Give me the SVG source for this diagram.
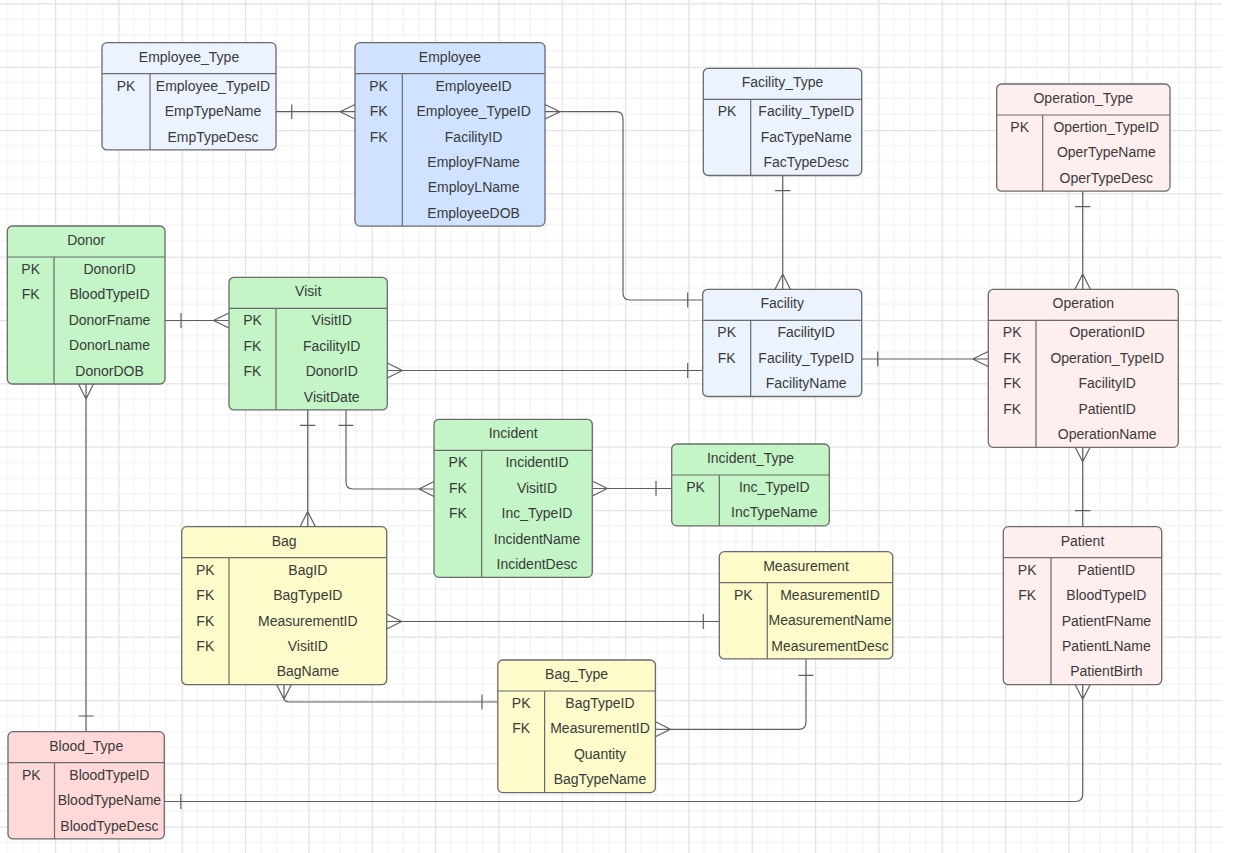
<svg xmlns="http://www.w3.org/2000/svg" width="1235" height="853" viewBox="0 0 1235 853">
<style>
.t{font-family:"Liberation Sans",Arial,sans-serif;font-size:14px;fill:#3a3a3a;text-anchor:middle}
.box{stroke:#6b6b6b;stroke-width:1.3}
.ln{stroke:#6b6b6b;stroke-width:1.2;fill:none}
.lb{fill:#ebf3ff}.bl{fill:#cfe2ff}.gr{fill:#c3f5c6}.ye{fill:#fcfbc9}.pk{fill:#ffeeee}.rs{fill:#ffd9d9}
.c{stroke:#5f5f5f;stroke-width:1.2;fill:none}
</style>
<defs>
<pattern id="grid" x="55" y="3.3" width="63.33" height="63.33" patternUnits="userSpaceOnUse">
<rect x="15.33" y="0" width="1" height="63.33" fill="#efefef"/>
<rect x="31.17" y="0" width="1" height="63.33" fill="#efefef"/>
<rect x="47" y="0" width="1" height="63.33" fill="#efefef"/>
<rect x="0" y="15.33" width="63.33" height="1" fill="#efefef"/>
<rect x="0" y="31.17" width="63.33" height="1" fill="#efefef"/>
<rect x="0" y="47" width="63.33" height="1" fill="#efefef"/>
<rect x="0" y="0" width="1.2" height="63.33" fill="#e0e0e0"/>
<rect x="0" y="0" width="63.33" height="1.2" fill="#e0e0e0"/>
</pattern>
</defs>
<rect width="1235" height="853" fill="#ffffff"/>
<rect width="1222" height="853" fill="url(#grid)"/>

<g id="connectors">
<!-- Employee_Type - Employee -->
<path class="c" d="M276,111.7 H355 M291.7,104.5 V119 M340,111.7 L355,104.5 M340,111.7 L355,119"/>
<!-- Employee - Facility -->
<path class="c" d="M545,111.7 H616 Q623,111.7 623,118.7 V293 Q623,300 630,300 H702.7 M560,111.7 L545,104.5 M560,111.7 L545,119 M687.7,292.5 V307.5"/>
<!-- Facility_Type - Facility -->
<path class="c" d="M782.7,175 V289.3 M775,190.7 H790.4 M782.7,274 L775,289.3 M782.7,274 L790.4,289.3"/>
<!-- Operation_Type - Operation -->
<path class="c" d="M1082.7,190.7 V289.3 M1075,206.7 H1090.4 M1082.7,274 L1075,289.3 M1082.7,274 L1090.4,289.3"/>
<!-- Facility - Operation -->
<path class="c" d="M861.7,359 H988.3 M877.7,351.5 V366.5 M972.7,359 L988.3,351.5 M972.7,359 L988.3,366.5"/>
<!-- Donor - Visit -->
<path class="c" d="M165,320.5 H229 M181,313 V328 M213.5,320.5 L229,313 M213.5,320.5 L229,328"/>
<!-- Visit - Facility -->
<path class="c" d="M387.3,370.5 H702.7 M402.3,370.5 L387.3,363 M402.3,370.5 L387.3,378 M687.7,363 V378"/>
<!-- Visit - Bag -->
<path class="c" d="M307.7,409.3 V526.7 M300,425.3 H315.4 M307.7,511.5 L300,526.7 M307.7,511.5 L315.4,526.7"/>
<!-- Visit - Incident -->
<path class="c" d="M346,409.3 V482 Q346,489 353,489 H434 M338.5,425.3 H353.5 M419,489 L434,481.5 M419,489 L434,496.5"/>
<!-- Incident - Incident_Type -->
<path class="c" d="M592.3,488.5 H671.7 M607.3,488.5 L592.3,481 M607.3,488.5 L592.3,496 M656,481 V496"/>
<!-- Bag - Measurement -->
<path class="c" d="M386.7,621.5 H719.3 M401.7,621.5 L386.7,614 M401.7,621.5 L386.7,629 M703.3,614 V629"/>
<!-- Bag - Bag_Type -->
<path class="c" d="M284,684.3 V697 Q284,702 289,702 H497.8 M284,699.3 L276.5,684.3 M284,699.3 L291.5,684.3 M482,694.5 V709.5"/>
<!-- Measurement - Bag_Type -->
<path class="c" d="M806,659.3 V722 Q806,729.3 799,729.3 H655.4 M798.5,675.3 H813.5 M670.4,729.3 L655.4,721.8 M670.4,729.3 L655.4,736.8"/>
<!-- Operation - Patient -->
<path class="c" d="M1082.7,446.7 V526.7 M1082.7,461.7 L1075,446.7 M1082.7,461.7 L1090.4,446.7 M1075,510.7 H1090.4"/>
<!-- Donor - Blood_Type -->
<path class="c" d="M86,384 V731.7 M86,399 L78.5,384 M86,399 L93.5,384 M78.5,716 H93.5"/>
<!-- Blood_Type - Patient -->
<path class="c" d="M164.3,801.5 H1075.5 Q1082.7,801.5 1082.7,794.3 V684.3 M180.8,794 V809 M1082.7,699.3 L1075,684.3 M1082.7,699.3 L1090.4,684.3"/>
</g>

<g id="Employee_Type">
<rect class="box lb" x="102" y="42.7" width="174" height="107.2" rx="5"/>
<path class="ln" d="M102,73.7 H276 M150,73.7 V149.9"/>
<text class="t" x="189" y="61.7">Employee_Type</text>
<text class="t" x="126" y="90.7">PK</text><text class="t" x="213" y="90.7">Employee_TypeID</text>
<text class="t" x="213" y="116.1">EmpTypeName</text>
<text class="t" x="213" y="141.5">EmpTypeDesc</text>
</g>

<g id="Employee">
<rect class="box bl" x="355" y="42.7" width="190" height="183.4" rx="5"/>
<path class="ln" d="M355,73.7 H545 M402.3,73.7 V226.1"/>
<text class="t" x="450" y="61.7">Employee</text>
<text class="t" x="378.6" y="90.7">PK</text><text class="t" x="473.6" y="90.7">EmployeeID</text>
<text class="t" x="378.6" y="116.1">FK</text><text class="t" x="473.6" y="116.1">Employee_TypeID</text>
<text class="t" x="378.6" y="141.5">FK</text><text class="t" x="473.6" y="141.5">FacilityID</text>
<text class="t" x="473.6" y="166.9">EmployFName</text>
<text class="t" x="473.6" y="192.3">EmployLName</text>
<text class="t" x="473.6" y="217.7">EmployeeDOB</text>
</g>

<g id="Facility_Type">
<rect class="box lb" x="703.3" y="68.3" width="158.4" height="107.2" rx="5"/>
<path class="ln" d="M703.3,99.3 H861.7 M750.7,99.3 V175.5"/>
<text class="t" x="782.5" y="87.3">Facility_Type</text>
<text class="t" x="727" y="116.3">PK</text><text class="t" x="806.2" y="116.3">Facility_TypeID</text>
<text class="t" x="806.2" y="141.7">FacTypeName</text>
<text class="t" x="806.2" y="167.1">FacTypeDesc</text>
</g>

<g id="Operation_Type">
<rect class="box pk" x="996.7" y="84" width="173.3" height="107.2" rx="5"/>
<path class="ln" d="M996.7,115 H1170 M1042.7,115 V191.2"/>
<text class="t" x="1083.3" y="103">Operation_Type</text>
<text class="t" x="1019.7" y="132">PK</text><text class="t" x="1106.3" y="132">Opertion_TypeID</text>
<text class="t" x="1106.3" y="157.4">OperTypeName</text>
<text class="t" x="1106.3" y="182.8">OperTypeDesc</text>
</g>

<g id="Donor">
<rect class="box gr" x="7.3" y="226" width="157.7" height="158" rx="5"/>
<path class="ln" d="M7.3,257 H165 M54,257 V384"/>
<text class="t" x="86.2" y="245">Donor</text>
<text class="t" x="30.7" y="274">PK</text><text class="t" x="109.5" y="274">DonorID</text>
<text class="t" x="30.7" y="299.4">FK</text><text class="t" x="109.5" y="299.4">BloodTypeID</text>
<text class="t" x="109.5" y="324.8">DonorFname</text>
<text class="t" x="109.5" y="350.2">DonorLname</text>
<text class="t" x="109.5" y="375.6">DonorDOB</text>
</g>

<g id="Visit">
<rect class="box gr" x="229" y="277.3" width="158.3" height="132.6" rx="5"/>
<path class="ln" d="M229,308.3 H387.3 M276,308.3 V409.9"/>
<text class="t" x="308.2" y="296.3">Visit</text>
<text class="t" x="252.5" y="325.3">PK</text><text class="t" x="331.7" y="325.3">VisitID</text>
<text class="t" x="252.5" y="350.7">FK</text><text class="t" x="331.7" y="350.7">FacilityID</text>
<text class="t" x="252.5" y="376.1">FK</text><text class="t" x="331.7" y="376.1">DonorID</text>
<text class="t" x="331.7" y="401.5">VisitDate</text>
</g>

<g id="Facility">
<rect class="box lb" x="702.7" y="289.3" width="159" height="107.2" rx="5"/>
<path class="ln" d="M702.7,320.3 H861.7 M750.7,320.3 V396.5"/>
<text class="t" x="782.2" y="308.3">Facility</text>
<text class="t" x="726.7" y="337.3">PK</text><text class="t" x="806.2" y="337.3">FacilityID</text>
<text class="t" x="726.7" y="362.7">FK</text><text class="t" x="806.2" y="362.7">Facility_TypeID</text>
<text class="t" x="806.2" y="388.1">FacilityName</text>
</g>

<g id="Operation">
<rect class="box pk" x="988.3" y="289.3" width="190" height="158" rx="5"/>
<path class="ln" d="M988.3,320.3 H1178.3 M1036,320.3 V447.3"/>
<text class="t" x="1083.3" y="308.3">Operation</text>
<text class="t" x="1012.2" y="337.3">PK</text><text class="t" x="1107.2" y="337.3">OperationID</text>
<text class="t" x="1012.2" y="362.7">FK</text><text class="t" x="1107.2" y="362.7">Operation_TypeID</text>
<text class="t" x="1012.2" y="388.1">FK</text><text class="t" x="1107.2" y="388.1">FacilityID</text>
<text class="t" x="1012.2" y="413.5">FK</text><text class="t" x="1107.2" y="413.5">PatientID</text>
<text class="t" x="1107.2" y="438.9">OperationName</text>
</g>

<g id="Incident">
<rect class="box gr" x="434" y="419.3" width="158.3" height="158" rx="5"/>
<path class="ln" d="M434,450.3 H592.3 M481.7,450.3 V577.3"/>
<text class="t" x="513.2" y="438.3">Incident</text>
<text class="t" x="457.9" y="467.3">PK</text><text class="t" x="537" y="467.3">IncidentID</text>
<text class="t" x="457.9" y="492.7">FK</text><text class="t" x="537" y="492.7">VisitID</text>
<text class="t" x="457.9" y="518.1">FK</text><text class="t" x="537" y="518.1">Inc_TypeID</text>
<text class="t" x="537" y="543.5">IncidentName</text>
<text class="t" x="537" y="568.9">IncidentDesc</text>
</g>

<g id="Incident_Type">
<rect class="box gr" x="671.7" y="444" width="157.6" height="81.8" rx="5"/>
<path class="ln" d="M671.7,475 H829.3 M719.3,475 V525.8"/>
<text class="t" x="750.5" y="463">Incident_Type</text>
<text class="t" x="695.5" y="492">PK</text><text class="t" x="774.3" y="492">Inc_TypeID</text>
<text class="t" x="774.3" y="517.4">IncTypeName</text>
</g>

<g id="Bag">
<rect class="box ye" x="181.7" y="526.7" width="205" height="158" rx="5"/>
<path class="ln" d="M181.7,557.7 H386.7 M229,557.7 V684.7"/>
<text class="t" x="284.2" y="545.7">Bag</text>
<text class="t" x="205.3" y="574.7">PK</text><text class="t" x="307.8" y="574.7">BagID</text>
<text class="t" x="205.3" y="600.1">FK</text><text class="t" x="307.8" y="600.1">BagTypeID</text>
<text class="t" x="205.3" y="625.5">FK</text><text class="t" x="307.8" y="625.5">MeasurementID</text>
<text class="t" x="205.3" y="650.9">FK</text><text class="t" x="307.8" y="650.9">VisitID</text>
<text class="t" x="307.8" y="676.3">BagName</text>
</g>

<g id="Measurement">
<rect class="box ye" x="719.3" y="551.7" width="173.4" height="107.2" rx="5"/>
<path class="ln" d="M719.3,582.7 H892.7 M767.3,582.7 V658.9"/>
<text class="t" x="806" y="570.7">Measurement</text>
<text class="t" x="743.3" y="599.7">PK</text><text class="t" x="830" y="599.7">MeasurementID</text>
<text class="t" x="830" y="625.1">MeasurementName</text>
<text class="t" x="830" y="650.5">MeasurementDesc</text>
</g>

<g id="Bag_Type">
<rect class="box ye" x="497.8" y="660" width="157.6" height="132.6" rx="5"/>
<path class="ln" d="M497.8,691 H655.4 M544.6,691 V792.6"/>
<text class="t" x="576.6" y="679">Bag_Type</text>
<text class="t" x="521.2" y="708">PK</text><text class="t" x="600" y="708">BagTypeID</text>
<text class="t" x="521.2" y="733.4">FK</text><text class="t" x="600" y="733.4">MeasurementID</text>
<text class="t" x="600" y="758.8">Quantity</text>
<text class="t" x="600" y="784.2">BagTypeName</text>
</g>

<g id="Patient">
<rect class="box pk" x="1003.3" y="526.7" width="158.4" height="158" rx="5"/>
<path class="ln" d="M1003.3,557.7 H1161.7 M1051,557.7 V684.7"/>
<text class="t" x="1082.5" y="545.7">Patient</text>
<text class="t" x="1027.2" y="574.7">PK</text><text class="t" x="1106.4" y="574.7">PatientID</text>
<text class="t" x="1027.2" y="600.1">FK</text><text class="t" x="1106.4" y="600.1">BloodTypeID</text>
<text class="t" x="1106.4" y="625.5">PatientFName</text>
<text class="t" x="1106.4" y="650.9">PatientLName</text>
<text class="t" x="1106.4" y="676.3">PatientBirth</text>
</g>

<g id="Blood_Type">
<rect class="box rs" x="8" y="731.7" width="156.3" height="107.2" rx="5"/>
<path class="ln" d="M8,762.7 H164.3 M54.5,762.7 V838.9"/>
<text class="t" x="86.2" y="750.7">Blood_Type</text>
<text class="t" x="31.3" y="779.7">PK</text><text class="t" x="109.4" y="779.7">BloodTypeID</text>
<text class="t" x="109.4" y="805.1">BloodTypeName</text>
<text class="t" x="109.4" y="830.5">BloodTypeDesc</text>
</g>
</svg>
